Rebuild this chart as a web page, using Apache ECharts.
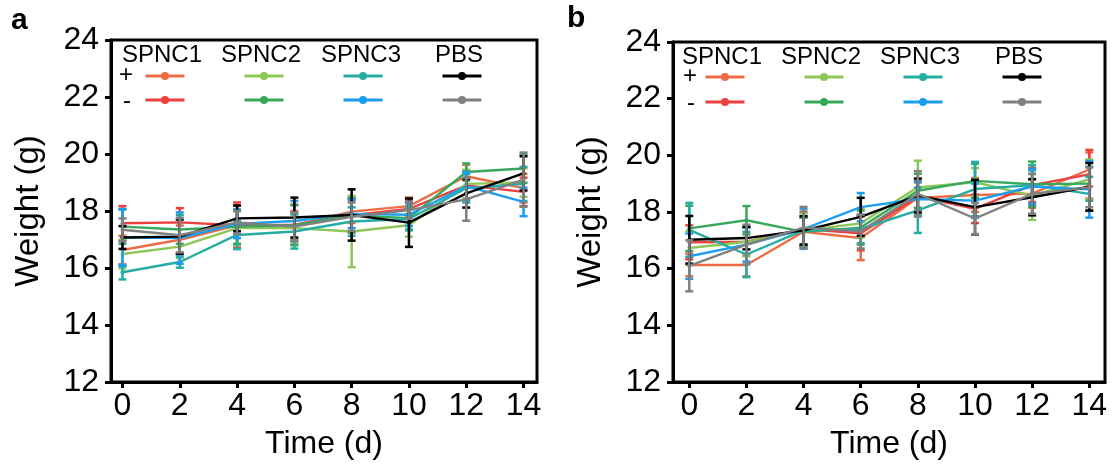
<!DOCTYPE html>
<html>
<head>
<meta charset="utf-8">
<script src="https://cdn.jsdelivr.net/npm/echarts@6/dist/echarts.min.js"></script>
<style>
html,body{margin:0;padding:0;background:#fff;}
#c{width:1115px;height:465px;}
</style>
</head>
<body>
<div id="c"></div>
<script>
// ---- data ----
var days = [0, 2, 4, 6, 8, 10, 12, 14];
var seriesNames = ['SPNC1 +', 'SPNC1 -', 'SPNC2 +', 'SPNC2 -', 'SPNC3 +', 'SPNC3 -', 'PBS +', 'PBS -'];
var groupHeaders = ['SPNC1', 'SPNC2', 'SPNC3', 'PBS'];
var rowLabels = ['+', '-'];
var yTicks = [12, 14, 16, 18, 20, 22, 24];

// panel a means
var a_spnc1_pos = [16.63, 16.99, 17.50, 17.50, 17.98, 18.17, 19.22, 18.80];
var a_spnc1_neg = [17.57, 17.60, 17.50, 17.52, 17.85, 18.07, 18.90, 18.67];
var a_spnc2_pos = [16.49, 16.75, 17.40, 17.40, 17.28, 17.50, 18.95, 19.00];
var a_spnc2_neg = [17.45, 17.35, 17.45, 17.50, 17.85, 17.75, 19.37, 19.49];
var a_spnc3_pos = [15.85, 16.21, 17.16, 17.28, 17.63, 17.72, 18.80, 18.95];
var a_spnc3_neg = [17.07, 17.05, 17.55, 17.65, 17.90, 17.87, 18.87, 18.32];
var a_pbs_pos   = [17.07, 17.10, 17.74, 17.77, 17.86, 17.59, 18.62, 19.32];
var a_pbs_neg   = [17.34, 17.15, 17.60, 17.45, 17.80, 18.03, 18.41, 19.10];
// panel a error (half-range)
var a_err_spnc1_pos = [0.50, 0.50, 0.70, 0.50, 0.40, 0.30, 0.40, 0.50];
var a_err_spnc1_neg = [0.60, 0.50, 0.80, 0.70, 0.60, 0.30, 0.50, 0.50];
var a_err_spnc2_pos = [0.50, 0.40, 0.60, 0.50, 1.25, 0.40, 0.50, 0.50];
var a_err_spnc2_neg = [0.60, 0.50, 0.60, 0.70, 0.60, 0.40, 0.30, 0.50];
var a_err_spnc3_pos = [0.25, 0.20, 0.50, 0.60, 0.50, 0.40, 0.50, 0.60];
var a_err_spnc3_neg = [1.00, 0.90, 0.50, 0.70, 0.50, 0.40, 0.50, 0.50];
var a_err_pbs_pos   = [0.40, 0.60, 0.45, 0.70, 0.90, 0.85, 0.50, 0.60];
var a_err_pbs_neg   = [0.40, 0.60, 0.40, 0.50, 0.50, 0.30, 0.75, 0.95];

// panel b means
var b_spnc1_pos = [16.13, 16.13, 17.30, 17.08, 18.50, 18.60, 18.65, 19.50];
var b_spnc1_neg = [16.93, 16.95, 17.40, 17.25, 18.55, 18.11, 18.95, 19.33];
var b_spnc2_pos = [16.73, 16.95, 17.35, 17.60, 18.87, 19.05, 18.58, 19.15];
var b_spnc2_neg = [17.42, 17.71, 17.30, 17.45, 18.75, 19.10, 18.98, 19.00];
var b_spnc3_pos = [17.37, 16.50, 17.35, 17.40, 18.06, 18.81, 18.95, 18.64];
var b_spnc3_neg = [16.44, 16.85, 17.40, 18.17, 18.46, 18.40, 18.90, 18.80];
var b_pbs_pos   = [17.02, 17.08, 17.35, 17.83, 18.58, 18.17, 18.52, 18.89];
var b_pbs_neg   = [16.10, 16.85, 17.45, 17.31, 18.64, 17.77, 18.64, 18.87];
// panel b error
var b_err_spnc1_pos = [0.40, 0.40, 0.50, 0.78, 0.60, 0.60, 0.50, 0.60];
var b_err_spnc1_neg = [0.60, 0.50, 0.60, 0.60, 0.50, 0.50, 0.60, 0.86];
var b_err_spnc2_pos = [0.60, 0.50, 0.60, 0.50, 0.94, 0.50, 0.86, 0.70];
var b_err_spnc2_neg = [0.80, 0.50, 0.50, 0.60, 0.60, 0.60, 0.80, 0.60];
var b_err_spnc3_pos = [0.95, 0.80, 0.50, 0.50, 0.80, 0.96, 0.70, 0.60];
var b_err_spnc3_neg = [0.80, 0.60, 0.70, 0.50, 0.60, 0.60, 0.60, 1.00];
var b_err_pbs_pos   = [0.84, 0.40, 0.50, 0.67, 0.60, 0.96, 0.64, 0.84];
var b_err_pbs_neg   = [0.90, 0.70, 0.73, 0.60, 0.80, 0.55, 0.70, 0.70];

var colors = ['#EE6B44', '#EE3F3F', '#8CC657', '#38A95B', '#25ADA4', '#1A9EF2', '#000000', '#808080'];

// ---- build ----
var panelMeans = [
  [a_spnc1_pos, a_spnc1_neg, a_spnc2_pos, a_spnc2_neg, a_spnc3_pos, a_spnc3_neg, a_pbs_pos, a_pbs_neg],
  [b_spnc1_pos, b_spnc1_neg, b_spnc2_pos, b_spnc2_neg, b_spnc3_pos, b_spnc3_neg, b_pbs_pos, b_pbs_neg]
];
var panelErrs = [
  [a_err_spnc1_pos, a_err_spnc1_neg, a_err_spnc2_pos, a_err_spnc2_neg, a_err_spnc3_pos, a_err_spnc3_neg, a_err_pbs_pos, a_err_pbs_neg],
  [b_err_spnc1_pos, b_err_spnc1_neg, b_err_spnc2_pos, b_err_spnc2_neg, b_err_spnc3_pos, b_err_spnc3_neg, b_err_pbs_pos, b_err_pbs_neg]
];

var FONT = '"Liberation Sans", Arial, sans-serif';
var grids = [
  {left: 111, top: 40, width: 426, height: 343},
  {left: 673, top: 42, width: 432, height: 345}
];
var xRanges = [[-0.4, 14.47], [-0.57, 14.55]];

function errRender(params, api) {
  var x = api.value(0), lo = api.value(1), hi = api.value(2);
  var p1 = api.coord([x, hi]), p2 = api.coord([x, lo]);
  var w = 4;
  var st = {stroke: api.visual('color'), lineWidth: 2.5};
  return {type: 'group', children: [
    {type: 'line', shape: {x1: p1[0], y1: p1[1], x2: p2[0], y2: p2[1]}, style: st},
    {type: 'line', shape: {x1: p1[0] - w, y1: p1[1], x2: p1[0] + w, y2: p1[1]}, style: st},
    {type: 'line', shape: {x1: p2[0] - w, y1: p2[1], x2: p2[0] + w, y2: p2[1]}, style: st}
  ]};
}

var xAxes = [], yAxes = [], series = [], legends = [], graphics = [];
for (var p = 0; p < 2; p++) {
  xAxes.push({
    gridIndex: p, type: 'value', min: xRanges[p][0], max: xRanges[p][1],
    name: 'Time (d)', nameLocation: 'middle', nameGap: 46,
    nameTextStyle: {fontSize: 32, fontFamily: FONT, color: '#000'},
    axisLine: {show: true, onZero: false, lineStyle: {color: '#000', width: 3}},
    axisTick: {show: true, length: 6, lineStyle: {color: '#000', width: 3},
      customValues: days},
    axisLabel: {fontSize: 32, fontFamily: FONT, color: '#000', margin: 8,
      customValues: days},
    splitLine: {show: false}
  });
  yAxes.push({
    gridIndex: p, type: 'value', min: 12, max: 24, interval: 2,
    name: 'Weight (g)', nameLocation: 'middle', nameGap: 66,
    nameTextStyle: {fontSize: 33, fontFamily: FONT, color: '#000'},
    axisLine: {show: true, onZero: false, lineStyle: {color: '#000', width: 3}},
    axisTick: {show: true, length: 6, lineStyle: {color: '#000', width: 3}},
    axisLabel: {fontSize: 32, fontFamily: FONT, color: '#000', margin: 12},
    splitLine: {show: false}
  });
  for (var i = 0; i < 8; i++) {
    var means = panelMeans[p][i], errs = panelErrs[p][i];
    var lineData = [], errData = [];
    for (var k = 0; k < days.length; k++) {
      lineData.push([days[k], means[k]]);
      errData.push([days[k], means[k] - errs[k], means[k] + errs[k]]);
    }
    series.push({
      type: 'custom', name: seriesNames[i] + ' err' + p, xAxisIndex: p, yAxisIndex: p,
      renderItem: errRender, data: errData, encode: {x: 0, y: [1, 2]},
      itemStyle: {color: colors[i]}, clip: false, silent: true, z: 2 + i
    });
    series.push({
      type: 'line', name: seriesNames[i], xAxisIndex: p, yAxisIndex: p,
      data: lineData, symbol: 'circle', symbolSize: 4, showSymbol: true,
      lineStyle: {color: colors[i], width: 2.4}, itemStyle: {color: colors[i]},
      z: 2 + i, animation: false
    });
  }
}

// legend layout (pixel placements of the legend block)
var legendCols = [[144, 243, 342, 441], [704, 803, 902, 1001]];
var legendRowsY = [[76, 100], [77, 102]];
var headerX = [[162, 261, 361, 459], [722, 821, 920, 1019]];
var headerY = [55, 57];
var rowLabelX = [[126, 127], [690, 691]];
for (var p2 = 0; p2 < 2; p2++) {
  for (var g = 0; g < 4; g++) {
    for (var r = 0; r < 2; r++) {
      legends.push({
        data: [seriesNames[g * 2 + r]], left: legendCols[p2][g], top: legendRowsY[p2][r] - 5,
        itemWidth: 39, itemHeight: 10, padding: 0, itemGap: 0, selectedMode: false,
        formatter: function () { return ''; },
        lineStyle: {width: 3}
      });
    }
    graphics.push({type: 'text', x: headerX[p2][g], y: headerY[p2],
      style: {text: groupHeaders[g], font: '24px ' + FONT, fill: '#000', textAlign: 'center', textVerticalAlign: 'middle'}});
  }
  for (var r2 = 0; r2 < 2; r2++) {
    graphics.push({type: 'text', x: rowLabelX[p2][r2], y: legendRowsY[p2][r2] + (r2 === 0 ? -1 : 1),
      style: {text: rowLabels[r2], font: '24px ' + FONT, fill: '#000', textAlign: 'center', textVerticalAlign: 'middle'}});
  }
}
graphics.push({type: 'text', x: 11, y: 6, style: {text: 'a', font: 'bold 30px ' + FONT, fill: '#000'}});
graphics.push({type: 'text', x: 567, y: 4, style: {text: 'b', font: 'bold 30px ' + FONT, fill: '#000'}});

var chart = echarts.init(document.getElementById('c'), null, {renderer: 'canvas'});
chart.setOption({
  animation: false,
  backgroundColor: '#fff',
  grid: grids.map(function (g) {
    return {left: g.left, top: g.top, width: g.width, height: g.height, show: true,
      borderColor: '#000', borderWidth: 3, backgroundColor: 'transparent'};
  }),
  xAxis: xAxes,
  yAxis: yAxes,
  legend: legends,
  series: series,
  graphic: graphics
});
</script>
</body>
</html>
